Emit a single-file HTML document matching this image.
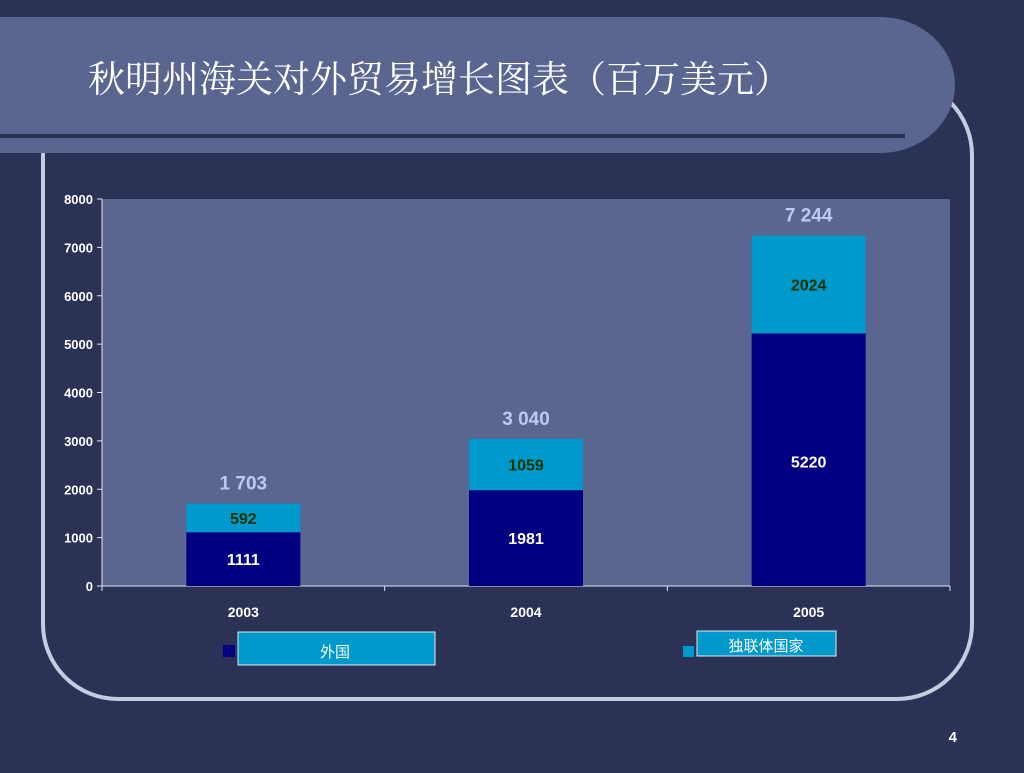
<!DOCTYPE html>
<html><head><meta charset="utf-8"><style>
body{margin:0;width:1024px;height:768px;background:#2b3256;overflow:hidden;font-family:"Liberation Sans","Noto Sans CJK SC",sans-serif;}
</style></head><body>
<svg width="1024" height="768" xmlns="http://www.w3.org/2000/svg">
<rect x="43" y="80" width="929" height="619" rx="75" ry="75" fill="none" stroke="#c3cde0" stroke-width="4"/>
<path d="M0 17 H880 A75 68 0 0 1 880 153 H0 Z" fill="#5a6590"/>
<rect x="0" y="134" width="905" height="4" fill="#2b3256"/>
<text x="88" y="92" fill="#ffffff" font-size="37" font-family="'Noto Serif CJK SC','Liberation Serif',serif">秋明州海关对外贸易增长图表（百万美元）</text>
<g id="chart"></g>
<rect x="223" y="645" width="12" height="12" fill="#000080"/>
<rect x="238" y="632" width="197" height="33" fill="#0099cc" stroke="#dfe8f5" stroke-width="1"/>
<text x="335" y="657" fill="#fff" font-size="15" text-anchor="middle">外国</text>
<rect x="683" y="646" width="11" height="11" fill="#0099cc"/>
<rect x="697" y="631" width="139" height="25" fill="#0099cc" stroke="#dfe8f5" stroke-width="1"/>
<text x="766" y="651" fill="#fff" font-size="15" text-anchor="middle">独联体国家</text>
<text x="957" y="742" fill="#fff" font-size="15" font-weight="bold" text-anchor="end">4</text>
</svg>
<script>
const categories=["2003","2004","2005"];
const foreign=[1111,1981,5220];
const cis=[592,1059,2024];
const totals=["1 703","3 040","7 244"];
const yTicks=[0,1000,2000,3000,4000,5000,6000,7000,8000];
const NS="http://www.w3.org/2000/svg";
const g=document.getElementById('chart');
const X0=102,X1=950,Y0=586,Y1=199,YMAX=8000;
const y=v=>Y0-(v/YMAX)*(Y0-Y1);
const slot=(X1-X0)/categories.length;
const xc=i=>X0+slot*(i+0.5);
const BW=114;
function mk(t,a){const e=document.createElementNS(NS,t);for(const k in a)e.setAttribute(k,a[k]);g.appendChild(e);return e;}
let e=mk('rect',{x:X0,y:Y1,width:X1-X0,height:Y0-Y1,fill:'#5a6590'});


e=mk('line',{x1:X0,y1:Y1,x2:X0,y2:Y0,stroke:'#dfe4f0','stroke-width':1});


e=mk('line',{x1:X0,y1:Y0,x2:X1,y2:Y0,stroke:'#dfe4f0','stroke-width':1});


yTicks.forEach(v=>{
 let t=mk('line',{x1:X0-5,y1:y(v),x2:X0,y2:y(v),stroke:'#dfe4f0'});
 
 
 let l=mk('text',{x:X0-9,y:y(v)+5,fill:'#fff','font-size':13,'font-weight':'bold','text-anchor':'end'});
 l.textContent=v;
 
 
});
for(let i=0;i<=categories.length;i++){
 let t=mk('line',{x1:X0+slot*i,y1:Y0,x2:X0+slot*i,y2:Y0+5,stroke:'#dfe4f0'});
 
 
}
categories.forEach((c,i)=>{
 const cx=xc(i),x=cx-BW/2;
 let b=mk('rect',{x:x,y:y(foreign[i]),width:BW,height:Y0-y(foreign[i]),fill:'#000080'});
 
 
 let top=foreign[i]+cis[i];
 let b2=mk('rect',{x:x,y:y(top),width:BW,height:y(foreign[i])-y(top),fill:'#0099cc'});
 
 
 let l=mk('text',{x:cx,y:(y(foreign[i])+Y0)/2+6,fill:'#fff','font-size':16,'font-weight':'bold','text-anchor':'middle'});
 l.textContent=foreign[i];
 if(i==2)l.setAttribute('y',y(foreign[i])+134);
 
 
 let l2=mk('text',{x:cx,y:(y(top)+y(foreign[i]))/2+6,fill:'#003300','font-size':16,'font-weight':'bold','text-anchor':'middle'});
 l2.textContent=cis[i];
 
 
 let l3=mk('text',{x:cx,y:y(top)-14,fill:'#c0c8f0','font-size':19,'font-weight':'bold','text-anchor':'middle'});
 l3.textContent=totals[i];
 
 
 let l4=mk('text',{x:cx,y:617,fill:'#fff','font-size':14,'font-weight':'bold','text-anchor':'middle'});
 l4.textContent=c;
 
 
});
</script>
</body></html>
